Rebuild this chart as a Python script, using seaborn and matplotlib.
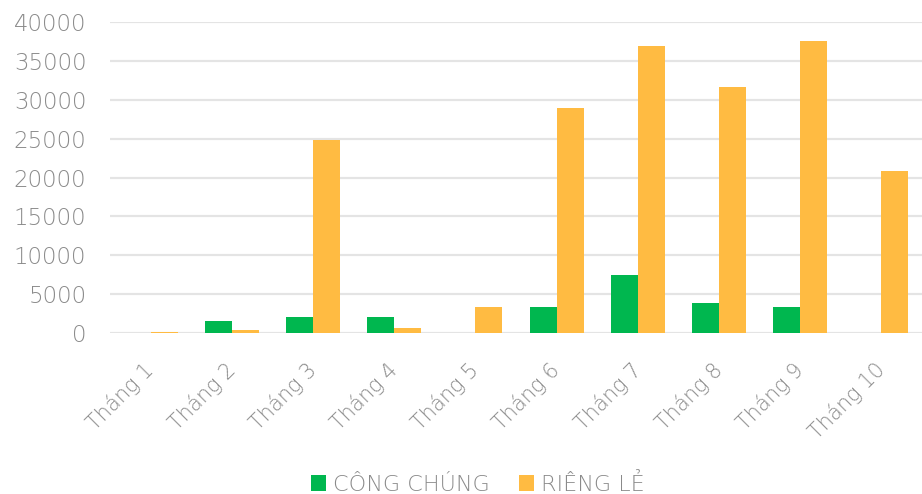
import matplotlib
matplotlib.use("Agg")
import matplotlib.pyplot as plt
import seaborn as sns
import pandas as pd

months = ["Tháng 1", "Tháng 2", "Tháng 3", "Tháng 4", "Tháng 5",
          "Tháng 6", "Tháng 7", "Tháng 8", "Tháng 9", "Tháng 10"]
cong_chung = [0, 1500, 2000, 2000, 0, 3400, 7500, 3900, 3350, 0]
rieng_le = [80, 450, 24800, 600, 3300, 29000, 36900, 31700, 37600, 20800]
series_names = ["CÔNG CHÚNG", "RIÊNG LẺ"]
colors = ["#00B74F", "#FFBB42"]
yticks = [0, 5000, 10000, 15000, 20000, 25000, 30000, 35000, 40000]

df = pd.DataFrame({
    "month": months * 2,
    "value": cong_chung + rieng_le,
    "series": [series_names[0]] * len(months) + [series_names[1]] * len(months),
})

sns.set_theme(style="white")
plt.rcParams["font.family"] = ["DejaVu Sans"]
text_color = "#8A8A8A"

fig = plt.figure(figsize=(9.22, 4.94), dpi=100)
ax = fig.add_axes([110 / 922, 1 - 333 / 494, 1 - 110 / 922, 311 / 494])

sns.barplot(data=df, x="month", y="value", hue="series", order=months,
            hue_order=series_names, palette=colors, width=0.667,
            saturation=1, edgecolor="none", linewidth=0, ax=ax, legend=True)

ax.set_ylim(0, 40000)
ax.set_xlim(-0.5, len(months) - 0.5)
ax.set_yticks(yticks)
ax.set_yticklabels([str(v) for v in yticks], fontsize=16.5, color=text_color,
                   fontweight="light")
ax.yaxis.grid(True, color="#E4E4E4", linewidth=1.6)
ax.set_axisbelow(True)
for s in ax.spines.values():
    s.set_visible(False)
ax.tick_params(axis="y", length=0, pad=17)
ax.tick_params(axis="x", length=0, pad=24)
ax.set_xticks(range(len(months)))
ax.set_xticklabels(months, rotation=45, ha="right", va="center",
                   rotation_mode="anchor", fontsize=15, color=text_color,
                   fontweight="light")
ax.set_xlabel("")
ax.set_ylabel("")

handles, labels = ax.get_legend_handles_labels()
ax.legend_.remove()
fig.legend(handles, labels, loc="center", bbox_to_anchor=(0.518, 1 - 484 / 494),
           ncol=2, frameon=False, handlelength=0.7,
           handleheight=0.7, handletextpad=0.3, columnspacing=1.3,
           labelcolor=text_color, prop={"size": 16, "weight": "light"})

fig.savefig("out.png", dpi=100)
